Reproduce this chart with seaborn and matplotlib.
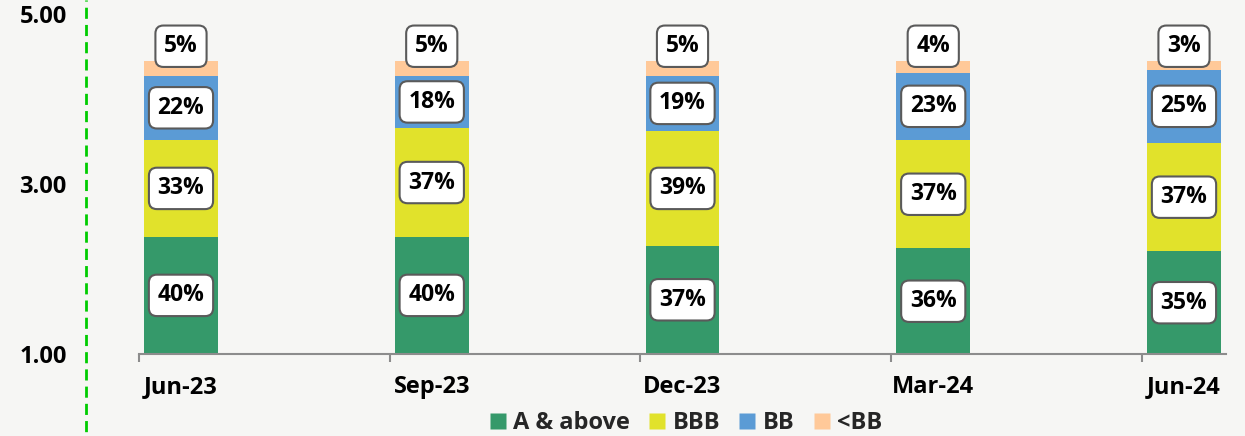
import matplotlib
matplotlib.use("Agg")
import matplotlib.pyplot as plt
import seaborn as sns
import numpy as np
from matplotlib.lines import Line2D

# ---- data ----
periods = ["Jun-23", "Sep-23", "Dec-23", "Mar-24", "Jun-24"]
a_above = [40, 40, 37, 36, 35]
bbb = [33, 37, 39, 37, 37]
bb = [22, 18, 19, 23, 25]
below_bb = [5, 5, 5, 4, 3]
series_names = ["A & above", "BBB", "BB", "<BB"]
left_ticks = [1.0, 3.0, 5.0]

colors = ["#35996a", "#e1e22b", "#5b9bd5", "#ffc999"]

sns.set_theme(style="white")
plt.rcParams["font.family"] = ["Open Sans", "DejaVu Sans"]
plt.rcParams["font.weight"] = "bold"

W, H = 1245, 436
fig = plt.figure(figsize=(W / 100, H / 100), dpi=100, facecolor="#f6f6f4")
pos = [139 / W, 82 / H, 1087 / W, 340 / H]
axl = fig.add_axes(pos, facecolor="none")
ax = fig.add_axes(pos, facecolor="none")

series = [a_above, bbb, bb, below_bb]
cum = np.cumsum(np.array(series, dtype=float), axis=0)

for i in reversed(range(len(series))):
    sns.barplot(x=periods, y=cum[i], order=periods, color=colors[i], width=0.295,
                saturation=1, linewidth=0, edgecolor="none", ax=ax)

ax.set_xlim(-0.1675, 4.1675)
ax.set_ylim(0, 116.0)
ax.set_yticks([])
ax.set_ylabel("")
ax.set_xlabel("")
for s in ["left", "top", "right"]:
    ax.spines[s].set_visible(False)
ax.spines["bottom"].set_color("#8c8c8c")
ax.spines["bottom"].set_linewidth(1.5)
ax.set_xticks(range(len(periods)))
ax.set_xticklabels(periods, fontsize=17, fontweight="bold", color="black")
ax.set_xticks([j - 0.1675 for j in range(len(periods))], minor=True)
ax.tick_params(axis="x", which="major", length=0, pad=15, bottom=True)
ax.tick_params(axis="x", which="minor", length=6, width=1.5, color="#8c8c8c",
               direction="out", bottom=True)

box = dict(boxstyle="round,pad=0.38,rounding_size=0.35", fc="white",
           ec="#5a5a5a", lw=1.5)
for j in range(len(periods)):
    for i in range(3):
        yc = cum[i][j] - series[i][j] / 2
        ax.text(j, yc, f"{series[i][j]}%", ha="center", va="center", fontsize=16.5,
                fontweight="bold", color="black", bbox=box, zorder=5)
    ax.text(j, cum[3][j] + 5.0, f"{series[3][j]}%", ha="center", va="center",
            fontsize=16.5, fontweight="bold", color="black", bbox=box, zorder=5)

# left value axis
axl.set_ylim(1, 5)
axl.set_xlim(0, 1)
axl.set_yticks(left_ticks)
axl.set_yticklabels([f"{v:.2f}" for v in left_ticks], fontsize=17,
                    fontweight="bold", color="black")
axl.tick_params(axis="y", length=0, pad=52)
axl.set_xticks([])
for s in axl.spines.values():
    s.set_visible(False)

# dashed green vertical line
fig.add_artist(Line2D([85.7 / W, 85.7 / W], [1, 0], transform=fig.transFigure,
                      color="#00cc00", lw=2, linestyle=(3.6, (4, 2.2))))

handles = [Line2D([], [], marker="s", linestyle="", markersize=11.5,
                  markerfacecolor=c, markeredgecolor="none") for c in colors]
fig.legend(handles, series_names, loc="center", bbox_to_anchor=(686 / W, 1 - 423 / H),
           ncol=4, frameon=False, handletextpad=0.3, columnspacing=0.8,
           handlelength=0.7, prop={"size": 17, "weight": "bold"})

fig.savefig("out.png", dpi=100, facecolor=fig.get_facecolor())
